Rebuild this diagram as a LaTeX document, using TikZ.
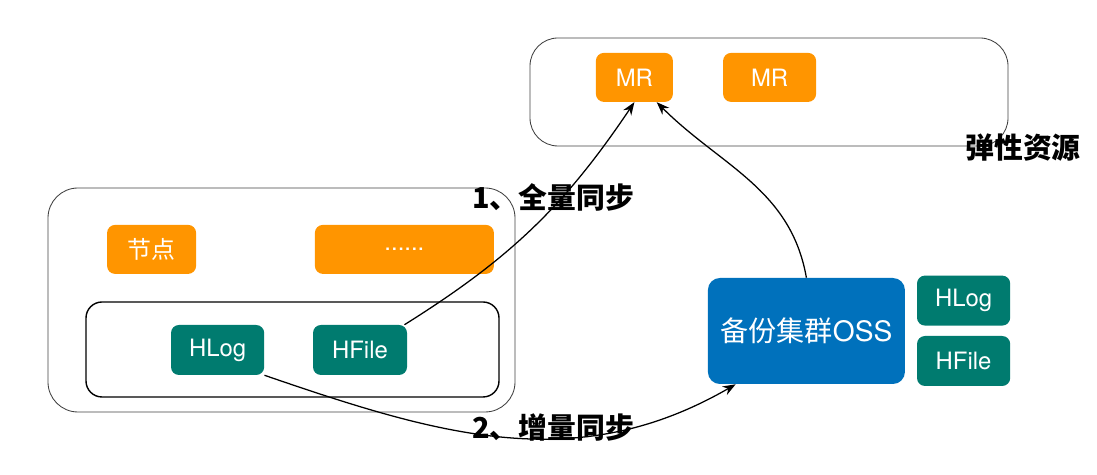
\documentclass[tikz,border=0pt]{standalone}
\usepackage{fontspec}
\setmainfont{TeX Gyre Heros}
\newfontfamily\cjk{Noto Sans CJK SC}
\usetikzlibrary{arrows.meta}
\tikzset{>={Stealth[scale=1.3]}}
\definecolor{mrorange}{HTML}{FF9500}
\definecolor{hteal}{HTML}{007B6F}
\definecolor{ossblue}{HTML}{0071BC}
\tikzset{
  box/.style={rounded corners=0.2cm, text=white, inner sep=0pt,
    font=\fontsize{17}{19}\selectfont},
  mrbox/.style={box, fill=mrorange, minimum height=1.225cm},
  hbox/.style={box, fill=hteal, minimum height=1.25cm, minimum width=2.33cm},
  group/.style={draw=black!75, line width=0.6pt, rounded corners=0.7cm},
  synclabel/.style={font=\cjk\bfseries\fontsize{20.5}{22}\selectfont},
  link/.style={->, line width=0.9pt}
}

\begin{document}
\begin{tikzpicture}
      \useasboundingbox (0,0) rectangle (27.425,11.875);
      % groups
      \draw[group] (13.25,8.225) rectangle (25.2,10.925);
      \draw[group, rounded corners=0.75cm] (1.2,1.575) rectangle (12.875,7.175);
      \draw[line width=1pt, rounded corners=0.4cm] (2.15,1.95) rectangle (12.475,4.325);
      % nodes
      \node[mrbox, minimum width=1.925cm] (mr1) at (15.86,9.94) {MR};
      \node[mrbox, minimum width=2.325cm] (mr2) at (19.24,9.94) {MR};
      \node[mrbox, minimum width=2.225cm, font=\cjk\fontsize{17}{19}\selectfont] (node) at (3.79,5.64) {节点};
      \node[mrbox, minimum width=4.475cm] (more) at (10.11,5.64) {......};
      \node[hbox] (hlog) at (5.44,3.125) {HLog};
      \node[hbox, minimum width=2.35cm] (hfile) at (9.0,3.125) {HFile};
      \node[box, fill=ossblue, rounded corners=0.3cm, minimum width=4.925cm,
        minimum height=2.65cm, font=\fontsize{20}{23}\selectfont] (oss) at (20.16,3.6)
        {{\cjk 备份集群}OSS};
      \node[hbox] (hlog2) at (24.09,4.36) {HLog};
      \node[hbox] (hfile2) at (24.09,2.85) {HFile};
      % lines
      \draw[link] ([xshift=-2pt]hfile.north east) to[bend right=12] (mr1.south);
      \draw[link] (oss.north) to[out=100, in=-45] (mr1.-48);
      \draw[link] (hlog.south east) to[out=-19, in=210] (oss.-143);
      % labels
      \node[synclabel] (elasticlabel) at (25.575,8.175) {弹性资源};
      \node[synclabel] (fullsync) at (13.825,6.95) {1、全量同步};
      \node[synclabel] (incsync) at (13.825,1.175) {2、增量同步};
\end{tikzpicture}
\end{document}
